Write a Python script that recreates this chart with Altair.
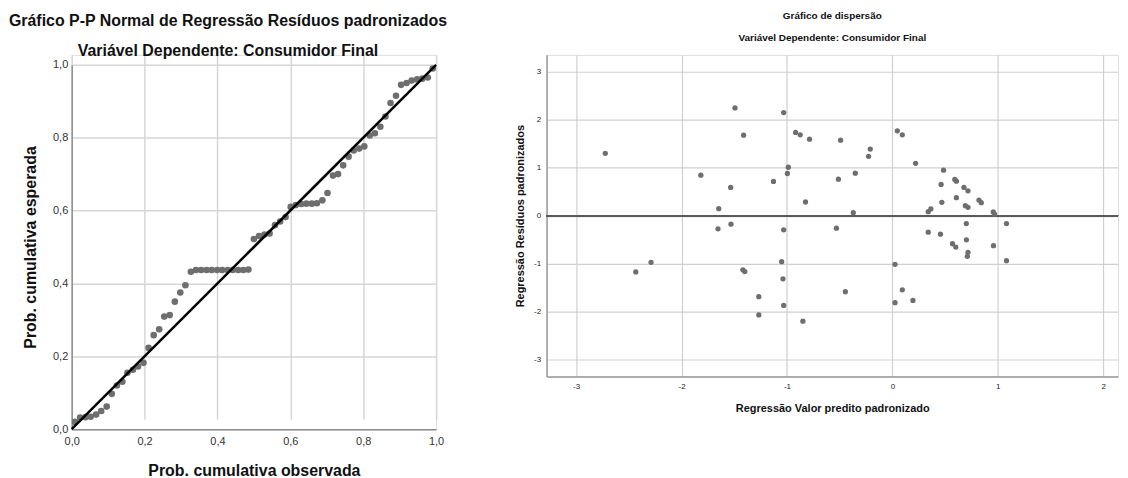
import altair as alt
import pandas as pd

# ---- P-P plot data (observed vs expected cumulative probability) ----
pp_obs = [0.009, 0.023, 0.038, 0.052, 0.067, 0.081, 0.096, 0.110, 0.124, 0.139,
          0.153, 0.168, 0.182, 0.197, 0.211, 0.225, 0.240, 0.254, 0.269, 0.283,
          0.298, 0.312, 0.327, 0.341, 0.355, 0.370, 0.384, 0.399, 0.413, 0.428,
          0.442, 0.457, 0.471, 0.485, 0.500, 0.514, 0.529, 0.543, 0.558, 0.572,
          0.587, 0.601, 0.615, 0.630, 0.644, 0.659, 0.673, 0.688, 0.702, 0.717,
          0.731, 0.745, 0.760, 0.774, 0.789, 0.803, 0.818, 0.832, 0.847, 0.861,
          0.875, 0.890, 0.904, 0.919, 0.933, 0.948, 0.962, 0.977, 0.991]
pp_exp = [0.020, 0.032, 0.033, 0.034, 0.040, 0.050, 0.062, 0.097, 0.120, 0.130,
          0.155, 0.163, 0.172, 0.182, 0.223, 0.258, 0.274, 0.309, 0.313, 0.350,
          0.375, 0.395, 0.432, 0.437, 0.437, 0.437, 0.437, 0.437, 0.437, 0.437,
          0.437, 0.437, 0.437, 0.438, 0.522, 0.530, 0.534, 0.537, 0.560, 0.570,
          0.582, 0.610, 0.615, 0.618, 0.619, 0.619, 0.620, 0.628, 0.648, 0.696,
          0.700, 0.724, 0.748, 0.765, 0.770, 0.776, 0.806, 0.812, 0.830, 0.858,
          0.895, 0.915, 0.945, 0.950, 0.957, 0.960, 0.962, 0.965, 0.990]
diag_x = [0.0, 1.0]
diag_y = [0.0, 1.0]

# ---- Scatter data (standardized predicted vs standardized residual) ----
pred = [-2.723, -1.493, -1.411, -1.817, -1.534, -1.647, -1.654, -1.531, -2.289, -2.434,
        -1.418, -1.400, -1.267, -1.267, -1.031, -0.918, -0.874, -0.786, -0.491, -0.210,
        -0.226, 0.047, 0.094, 0.220, -0.987, -0.996, -1.128, -0.512, -0.352, -0.824,
        -0.371, -1.031, -0.531, -1.050, -1.038, -1.031, -0.849, -0.446, 0.025, 0.094,
        0.195, 0.025, 0.340, 0.365, 0.340, 0.485, 0.462, 0.469, 0.592, 0.607,
        0.679, 0.717, 0.607, 0.692, 0.717, 0.821, 0.843, 0.957, 0.969, 0.701,
        1.082, 0.456, 0.570, 0.601, 0.702, 0.717, 0.711, 0.959, 1.082]
resid = [1.298, 2.244, 1.677, 0.843, 0.588, 0.145, -0.275, -0.178, -0.973, -1.172,
         -1.130, -1.165, -1.690, -2.070, 2.147, 1.733, 1.685, 1.594, 1.573, 1.387,
         1.236, 1.768, 1.685, 1.091, 1.008, 0.878, 0.712, 0.760, 0.884, 0.284,
         0.062, -0.296, -0.261, -0.959, -1.317, -1.870, -2.200, -1.586, -1.014, -1.545,
         -1.766, -1.814, 0.083, 0.139, -0.344, 0.946, 0.650, 0.277, 0.753, 0.718,
         0.588, 0.518, 0.373, 0.207, 0.174, 0.325, 0.269, 0.077, 0.029, -0.166,
         -0.166, -0.386, -0.586, -0.655, -0.503, -0.765, -0.848, -0.627, -0.938]

pp_ticks = [0.0, 0.2, 0.4, 0.6, 0.8, 1.0]
sc_xticks = [-3, -2, -1, 0, 1, 2]
sc_yticks = [-3, -2, -1, 0, 1, 2, 3]

FONT = "Liberation Sans"
DOT = "#6e6e6e"

pp_df = pd.DataFrame({"obs": pp_obs, "exp": pp_exp})
diag_df = pd.DataFrame({"obs": diag_x, "exp": diag_y})
sc_df = pd.DataFrame({"pred": pred, "resid": resid})

comma = "replace(format(datum.value, '.1f'), '.', ',')"

def axis_left(title, **kw):
    return alt.Axis(values=pp_ticks, labelExpr=comma, title=title, grid=True,
                    gridColor="#d6d6d6", gridWidth=1.5, domainColor="#8f8f8f",
                    domainWidth=1.5, ticks=False, labelFlush=False,
                    labelFont=FONT, labelFontSize=11,
                    labelColor="#333333", titleFont=FONT, titleFontSize=16,
                    titleFontWeight="bold", titleColor="#111111", **kw)

# left panel: 376px tall group, plot occupies its lower 366px (10px lower than the right plot)
xL = alt.X("obs:Q", scale=alt.Scale(domain=[0, 1], nice=False, zero=False),
           axis=axis_left("Prob. cumulativa observada", labelPadding=6, titlePadding=17))
yL = alt.Y("exp:Q", scale=alt.Scale(domain=[0, 1], nice=False, zero=False, range=[376, 10]),
           axis=axis_left("Prob. cumulativa esperada", labelPadding=4, titlePadding=14))

pp_points = alt.Chart(pp_df).mark_circle(size=44, color=DOT, opacity=1).encode(x=xL, y=yL)
pp_line = alt.Chart(diag_df).mark_line(color="black", strokeWidth=2.5, clip=False).encode(
    x=alt.X("obs:Q"), y=alt.Y("exp:Q"))

left = alt.layer(pp_points, pp_line).properties(
    width=366, height=376,
    title=alt.TitleParams(
        text="Gráfico P-P Normal de Regressão Resíduos padronizados",
        subtitle="Variável Dependente: Consumidor Final",
        font=FONT, fontSize=16, fontWeight="bold", color="#111111",
        subtitleFont=FONT, subtitleFontSize=16, subtitleFontWeight="bold",
        subtitleColor="#111111", subtitlePadding=14, anchor="middle", dx=-26, offset=-4),
)

def axis_right(title, values, **kw):
    return alt.Axis(values=values, labelExpr="toString(datum.value)", title=title, grid=True,
                    gridColor="#cfcfcf", gridWidth=1.2, domainColor="#999999",
                    domainWidth=1.5, ticks=False, labelFlush=False,
                    labelFont=FONT, labelFontSize=8,
                    labelColor="#222222", titleFont=FONT, titleFontSize=11,
                    titleFontWeight="bold", titleColor="#111111", **kw)

xR = alt.X("pred:Q", scale=alt.Scale(domain=[-3.28, 2.14], nice=False, zero=False),
           axis=axis_right("Regressão Valor predito padronizado", sc_xticks,
                           labelPadding=6, titlePadding=12))
yR = alt.Y("resid:Q", scale=alt.Scale(domain=[-3.35, 3.35], nice=False, zero=False),
           axis=axis_right("Regressão Resíduos padronizados", sc_yticks,
                           labelPadding=6, titlePadding=8))

sc_points = alt.Chart(sc_df).mark_circle(size=28, color=DOT, opacity=1).encode(x=xR, y=yR)
zero_line = alt.Chart(sc_df).mark_rule(color="#5a5a5a", strokeWidth=1.2).encode(
    y=alt.datum(0))

right = alt.layer(zero_line, sc_points).properties(
    width=574, height=323,
    title=alt.TitleParams(
        text="Gráfico de dispersão",
        subtitle="Variável Dependente: Consumidor Final",
        font=FONT, fontSize=10, fontWeight="bold", color="#111111",
        subtitleFont=FONT, subtitleFontSize=10, subtitleFontWeight="bold",
        subtitleColor="#111111", subtitlePadding=12, anchor="middle", offset=12),
)

chart = alt.hconcat(left, right, spacing=66).properties(
    padding={"left": 0, "top": 1, "right": 0, "bottom": 0}
).configure_view(stroke=None).configure(background="white")

chart.save("out.html", embed_options={"renderer": "svg", "actions": False})
